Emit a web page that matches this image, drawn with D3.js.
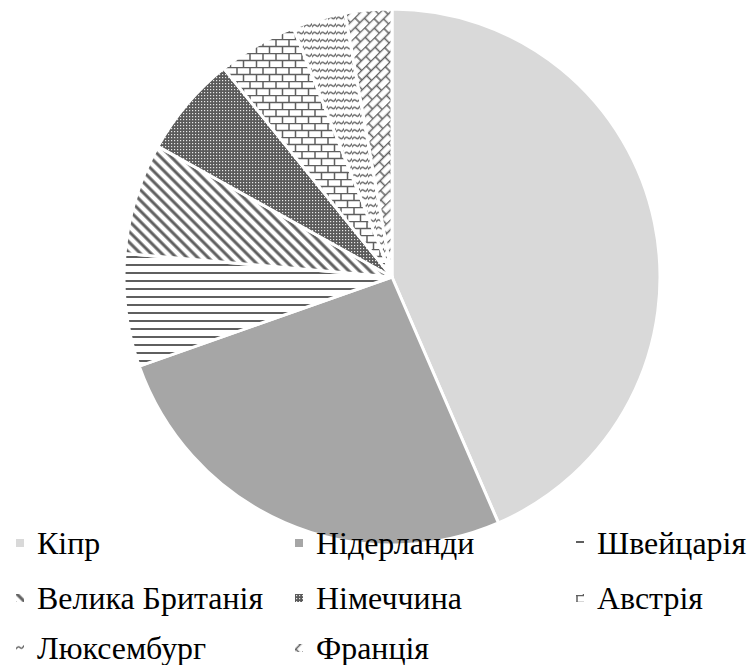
<!DOCTYPE html>
<html>
<head>
<meta charset="utf-8">
<script src="https://cdn.jsdelivr.net/npm/d3@7"></script>
<style>
  body { margin: 0; background: #fff; }
  svg { display: block; }
</style>
</head>
<body>
<svg id="chart" width="751" height="665"></svg>
<script>
const countries = ["Кіпр", "Нідерланди", "Швейцарія", "Велика Британія", "Німеччина", "Австрія", "Люксембург", "Франція"];
const shares = [43.5, 26.1, 6.8, 6.7, 6.1, 4.8, 3.2, 2.8];

// fill for each slice (plain grey or a hatch pattern id)
const fills = ["#d9d9d9", "#a6a6a6", "url(#horiz)", "url(#diag)", "url(#grid)", "url(#brick)", "url(#wave)", "url(#dbrick)"];

var svg = d3.select("#chart");
var defs = svg.append("defs");
var ink = "#5f5f5f";

// horizontal lines
var p = defs.append("pattern").attr("id", "horiz").attr("patternUnits", "userSpaceOnUse")
    .attr("width", 8).attr("height", 8);
p.append("rect").attr("width", 8).attr("height", 8).attr("fill", "#fff");
p.append("line").attr("x1", 0).attr("x2", 8).attr("y1", 4).attr("y2", 4)
    .attr("stroke", ink).attr("stroke-width", 2);

// wide downward diagonal
p = defs.append("pattern").attr("id", "diag").attr("patternUnits", "userSpaceOnUse")
    .attr("width", 7.5).attr("height", 7.5).attr("patternTransform", "rotate(45)");
p.append("rect").attr("width", 7.5).attr("height", 7.5).attr("fill", "#fff");
p.append("line").attr("x1", 0).attr("x2", 7.5).attr("y1", 3.75).attr("y2", 3.75)
    .attr("stroke", ink).attr("stroke-width", 3);

// small grid
p = defs.append("pattern").attr("id", "grid").attr("patternUnits", "userSpaceOnUse")
    .attr("width", 3).attr("height", 3);
p.append("rect").attr("width", 3).attr("height", 3).attr("fill", "#5a5a5a");
p.append("rect").attr("x", 1).attr("y", 1).attr("width", 1.2).attr("height", 1.2).attr("fill", "#e8e8e8");

// bricks (horizontal and diagonal)
function brick(id, w, h, rot) {
  var b = defs.append("pattern").attr("id", id).attr("patternUnits", "userSpaceOnUse")
      .attr("width", w).attr("height", h * 2);
  if (rot) b.attr("patternTransform", "rotate(" + rot + ")");
  b.append("rect").attr("width", w).attr("height", h * 2).attr("fill", "#fff");
  b.append("path")
      .attr("d", "M0," + 0.5 + "H" + w + "M0," + (h + 0.5) + "H" + w +
                 "M1," + 0 + "V" + h + "M" + (w / 2 + 1) + "," + h + "V" + (2 * h))
      .attr("stroke", ink).attr("stroke-width", 1.5).attr("fill", "none");
}
brick("brick", 13, 7, 0);
brick("dbrick", 13, 7, -45);

// wave
p = defs.append("pattern").attr("id", "wave").attr("patternUnits", "userSpaceOnUse")
    .attr("width", 8).attr("height", 7.5);
p.append("rect").attr("width", 8).attr("height", 7.5).attr("fill", "#fff");
p.append("path").attr("d", "M0,5 Q2,1.5 4,3.5 Q6,5.5 8,1.5")
    .attr("stroke", ink).attr("stroke-width", 1.3).attr("fill", "none");

var cx = 392, cy = 277, r = 268;

var pie = d3.pie().sort(null).value(d => d);
var arc = d3.arc().innerRadius(0).outerRadius(r);

svg.append("g")
    .attr("transform", "translate(" + cx + "," + cy + ")")
    .selectAll("path")
    .data(pie(shares))
    .join("path")
    .attr("d", arc)
    .attr("fill", (d, i) => fills[i])
    .attr("stroke", "#fff")
    .attr("stroke-width", 3)
    .attr("stroke-linejoin", "round");

// legend, 3 columns
var colX = [16, 295, 576];
var rowY = [554, 609, 659];

var legend = svg.append("g")
    .selectAll("g")
    .data(countries)
    .join("g")
    .attr("transform", (d, i) => "translate(" + colX[i % 3] + "," + rowY[Math.floor(i / 3)] + ")");

legend.append("rect")
    .attr("x", 0).attr("y", -15)
    .attr("width", 8).attr("height", 8)
    .attr("fill", (d, i) => fills[i]);

// no serif font with Cyrillic is installed, so this falls back to a sans face
legend.append("text")
    .attr("transform", "translate(21,0) scale(1.03,1)")
    .attr("font-family", "'Liberation Serif', 'Times New Roman', serif")
    .attr("font-size", 31)
    .attr("fill", "#000")
    .text(d => d);
</script>
</body>
</html>
